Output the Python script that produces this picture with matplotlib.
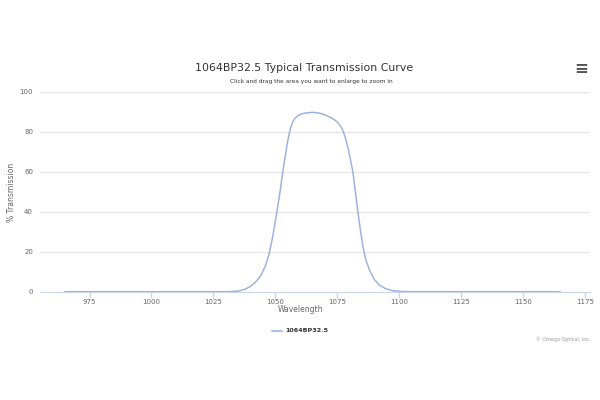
import matplotlib
matplotlib.use("Agg")
import matplotlib.pyplot as plt

# transmission curve
wavelength = [965, 1000, 1030, 1034, 1036, 1038, 1040, 1042, 1044, 1046, 1047.5,
              1049, 1050.5, 1052, 1053, 1054, 1055, 1056, 1057, 1058, 1059.5,
              1061, 1063, 1065, 1067, 1069, 1071, 1073, 1075, 1076.5, 1077.5,
              1078.5, 1079.5, 1080.5, 1081.3, 1082.3, 1083.3, 1084.3, 1085.3,
              1086.5, 1088, 1090, 1092, 1094.5, 1097.5, 1101, 1105, 1165]
transmission = [0, 0, 0, 0.2, 0.6, 1.4, 2.7, 4.8, 7.8, 13, 19,
                28, 39, 51, 60, 68, 75.5, 81.5, 85, 87, 88.5,
                89.2, 89.6, 89.8, 89.6, 89, 88, 86.8, 85, 82.5, 80,
                76, 71, 65, 60, 50, 40, 31, 23,
                16, 10.8, 6, 3.3, 1.5, 0.5, 0.1, 0, 0]
x_ticks = [975, 1000, 1025, 1050, 1075, 1100, 1125, 1150, 1175]
y_ticks = [0, 20, 40, 60, 80, 100]
series_name = "1064BP32.5"

plt.rcParams['font.family'] = ['DejaVu Sans']

fig = plt.figure(figsize=(6, 4), dpi=100)
ax = fig.add_axes([40 / 600, 1 - 291.7 / 400, 550 / 600, 199.7 / 400])

ax.plot(wavelength, transmission, color='#9db3dd', lw=1.1, solid_capstyle='round')

ax.set_xlim(955, 1177)
ax.set_ylim(0, 100)
ax.set_xticks(x_ticks)
ax.set_yticks(y_ticks)
ax.grid(axis='y', color='#e6e6e6', lw=1)
ax.set_axisbelow(True)
for s in ['top', 'right', 'left']:
    ax.spines[s].set_visible(False)
ax.spines['bottom'].set_color('#ccd6eb')
ax.tick_params(axis='x', colors='#ccd6eb', labelcolor='#666666', labelsize=5,
               length=4, width=1, pad=1)
ax.tick_params(axis='y', length=0, labelcolor='#666666', labelsize=5, pad=5)

fig.text(300 / 600, 1 - 309 / 400, 'Wavelength', ha='center', va='center',
         fontsize=5.5, color='#666666')
fig.text(12 / 600, 1 - 192 / 400, '% Transmission', ha='center', va='center',
         rotation=90, fontsize=5.5, color='#666666')

fig.text(304 / 600, 1 - 68 / 400, '1064BP32.5 Typical Transmission Curve',
         ha='center', va='center', fontsize=7.9, color='#333333')
fig.text(311 / 600, 1 - 81 / 400, 'Click and drag the area you want to enlarge to zoom in',
         ha='center', va='center', fontsize=4.2, color='#333333')
fig.text(581 / 600, 1 - 69 / 400, '\u2261', ha='center', va='center',
         fontsize=12, color='#555555', fontweight='bold')

# legend
fig.lines.append(plt.Line2D([272 / 600, 282 / 600], [1 - 331 / 400] * 2,
                            transform=fig.transFigure, color='#9db3dd', lw=1.2))
fig.text(285 / 600, 1 - 331 / 400, series_name, ha='left', va='center',
         fontsize=4.6, color='#333333', fontweight='bold')
fig.text(590 / 600, 1 - 339 / 400, '\u00a9 Omega Optical, Inc.', ha='right',
         va='center', fontsize=3.5, color='#999999')

fig.savefig('out.png', dpi=100, facecolor='white')
